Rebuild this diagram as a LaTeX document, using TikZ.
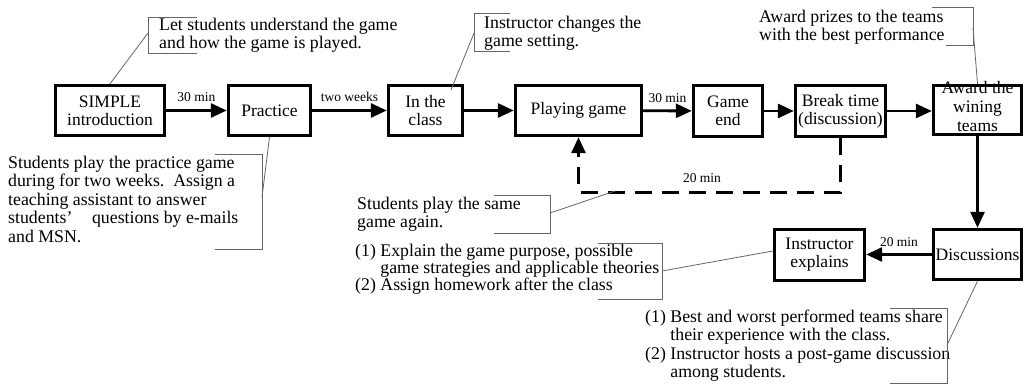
\documentclass[tikz,border=0pt]{standalone}
\usepackage{fontspec}
\setmainfont{Liberation Serif}
\usetikzlibrary{arrows.meta,calc}

\begin{document}
\begin{tikzpicture}[x=1pt,y=-1pt,
  box/.style={draw, line width=2.9pt, inner sep=0pt, align=center,
    font=\fontsize{17.5}{18}\selectfont},
  flow/.style={line width=2.9pt, -{Triangle[length=16pt,width=14pt]}},
  loopline/.style={flow, dash pattern=on 17pt off 10pt},
  tlabel/.style={font=\fontsize{13.5}{13.5}\selectfont, anchor=base, inner sep=0pt},
  note/.style={anchor=north west, inner sep=0pt, align=left,
    font=\fontsize{17.8}{18.5}\selectfont},
  bracket/.style={draw=black!60, line width=0.8pt},
]
\useasboundingbox (0,0) rectangle (1027,385);

% process boxes
\node[box, minimum width=109, minimum height=50.5] (intro) at (110,110.5) {SIMPLE\\introduction};
\node[box, minimum width=82.5, minimum height=50.5] (practice) at (269.5,110.5) {Practice};
\node[box, minimum width=74.5, minimum height=50.5] (inclass) at (425.5,110.5) {In the\\class};
\node[box, minimum width=126.5, minimum height=50.5] (playing) at (578.5,110.5) {Playing game};
\node[box, minimum width=69.5, minimum height=51.5] (gameend) at (728,111) {Game\\end};
\node[box, minimum width=90.5, minimum height=51.5] (breakt) at (840.5,111) {Break time\\(discussion)};
\node[align=center, inner sep=0pt, font=\fontsize{17.5}{19}\selectfont] (awardtext) at (977.5,107) {Award the\\wining\\teams};
\node[box, minimum width=88.5, minimum height=49.5] (award) at (977.5,110) {};
\node[box, minimum width=90.5, minimum height=51.5] (instr) at (819.5,255) {Instructor\\explains};
\node[box, minimum width=88.5, minimum height=50.5] (disc) at (977.5,254.5) {Discussions};

% main flow
\draw[flow] (intro) -- node[tlabel, yshift=8.5pt] {30 min} (practice);
\draw[flow] (practice) -- node[tlabel, yshift=8.5pt] {two weeks} (inclass);
\draw[flow] (inclass) -- (playing);
\draw[flow] (playing) -- node[tlabel, yshift=8.5pt] {30 min} (gameend);
\draw[flow] (gameend) -- (breakt);
\draw[flow] (breakt.east) -- (breakt.east -| award.west);
\draw[flow] (award) -- (disc);
\draw[flow] (disc.west) -- node[tlabel, yshift=8pt] {20 min} (disc.west -| instr.east);

% replay loop
\draw[loopline] (breakt.south) -- ++(0,54) coordinate (loopr) -| (playing.south);
\node[tlabel] (looplbl) at (702,182) {20 min};
\coordinate (replay) at (615,191);

% annotations
\node[note] (n1) at (159,17.5) {Let students understand the game\\and how the game is played.};
\node[note] (n2) at (484,15.5) {Instructor changes the\\game setting.};
\node[note] (n3) at (759,9.5) {Award prizes to the teams\\with the best performance};
\node[note] (n4) at (8,155.5) {Students play the practice game\\during for two weeks.\ \ Assign a\\teaching assistant to answer\\students’\hspace{1.1em}questions by e-mails\\and MSN.};
\node[note] (n5) at (357,196.5) {Students play the same\\game again.};
\node[note, font=\fontsize{17.8}{17}\selectfont] (n6) at (355,243.5) {(1) Explain the game purpose, possible\\\hphantom{(1) }game strategies and applicable theories\\(2) Assign homework after the class};
\node[note] (n7) at (645,309.5) {(1) Best and worst performed teams share\\\hphantom{(1) }their experience with the class.\\(2) Instructor hosts a post-game discussion\\\hphantom{(2) }among students.};

% brackets and leaders
\draw[bracket] (197,17) -- (148,17) -- (148,53) -- (197,53);
\coordinate (k1) at (148,33);
\draw[bracket] (k1) -- (intro.north);

\draw[bracket] (510,13) -- (474,13) -- (474,51) -- (510,51);
\coordinate (k2) at (474,33);
\draw[bracket] (k2) -- ($(inclass.center)+(25.5,-20.5)$);

\draw[bracket] (932,7) -- (973,7) -- (973,45) -- (946,45);
\coordinate (k3) at (973,28);
\draw[bracket] (k3) -- (award.north);

\draw[bracket] (215,154) -- (262,154) -- (262,249) -- (215,249);
\coordinate (k4) at (262,197);
\draw[bracket] (k4) -- (practice.south);

\draw[bracket] (494,195) -- (550,195) -- (550,233) -- (494,233);
\coordinate (k5) at (550,213);
\draw[bracket] (k5) -- (replay);

\draw[bracket] (598,243) -- (662,243) -- (662,299) -- (598,299);
\coordinate (k6) at (662,271);
\draw[bracket] (k6) -- ($(instr.west)+(0,-4)$);

\draw[bracket] (890,308) -- (947,308) -- (947,383) -- (890,383);
\coordinate (k7) at (947,345);
\draw[bracket] (k7) -- (disc.south);
\end{tikzpicture}
\end{document}
